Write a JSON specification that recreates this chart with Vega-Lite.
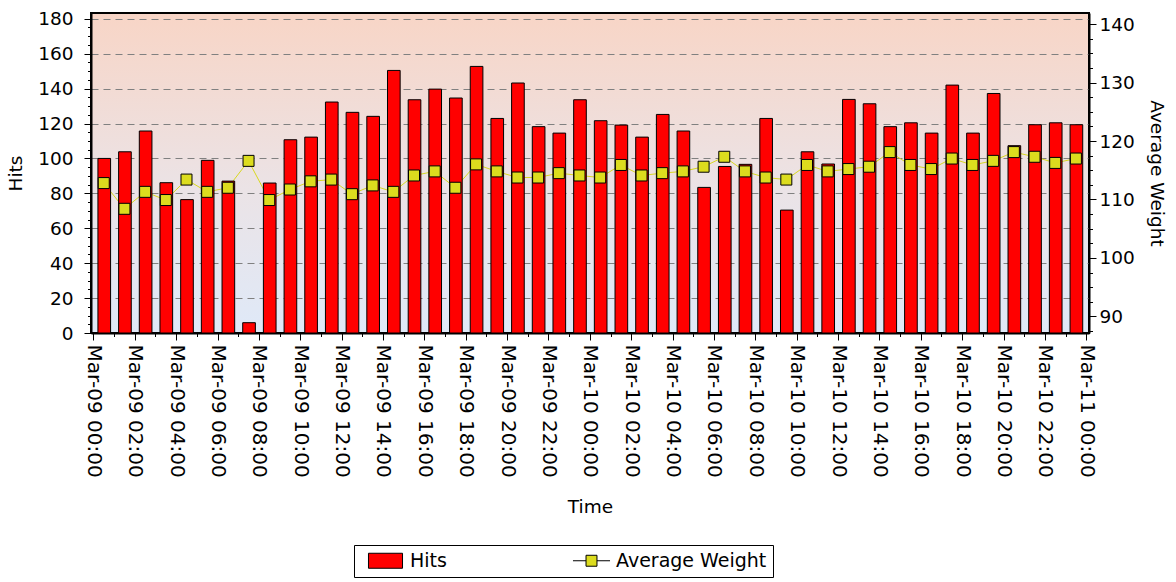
{
  "$schema": "https://vega.github.io/schema/vega-lite/v6.json",
  "width": 998,
  "height": 320,
  "autosize": "none",
  "padding": {"left": 91, "top": 13, "right": 87, "bottom": 249},
  "background": "white",
  "view": {
    "stroke": "#000",
    "strokeWidth": 2,
    "fill": {"gradient": "linear", "x1": 0, "y1": 0, "x2": 0, "y2": 1,
      "stops": [{"offset": 0, "color": "#f8d5c6"}, {"offset": 0.55, "color": "#ebe3e6"}, {"offset": 1, "color": "#dfe9f8"}]}
  },
  "config": {
    "font": "DejaVu Sans",
    "axis": {
      "labelFont": "DejaVu Sans", "titleFont": "DejaVu Sans",
      "labelFontSize": 18.5, "titleFontSize": 18.5, "titleFontWeight": "normal",
      "labelColor": "#000", "titleColor": "#000",
      "domainColor": "#000", "domainWidth": 2,
      "tickColor": "#000", "tickSize": 7
    }
  },
  "data": {"values": [
    {"t": "2010-03-09T00:00", "hits": 100.0, "weight": 112.8},
    {"t": "2010-03-09T01:00", "hits": 103.8, "weight": 108.4},
    {"t": "2010-03-09T02:00", "hits": 115.7, "weight": 111.3},
    {"t": "2010-03-09T03:00", "hits": 86.1, "weight": 109.9},
    {"t": "2010-03-09T04:00", "hits": 76.4, "weight": 113.4},
    {"t": "2010-03-09T05:00", "hits": 98.9, "weight": 111.3},
    {"t": "2010-03-09T06:00", "hits": 87.0, "weight": 112.0},
    {"t": "2010-03-09T07:00", "hits": 5.9, "weight": 116.6},
    {"t": "2010-03-09T08:00", "hits": 85.9, "weight": 109.9},
    {"t": "2010-03-09T09:00", "hits": 110.7, "weight": 111.7},
    {"t": "2010-03-09T10:00", "hits": 112.2, "weight": 113.1},
    {"t": "2010-03-09T11:00", "hits": 132.3, "weight": 113.4},
    {"t": "2010-03-09T12:00", "hits": 126.4, "weight": 110.9},
    {"t": "2010-03-09T13:00", "hits": 124.1, "weight": 112.4},
    {"t": "2010-03-09T14:00", "hits": 150.4, "weight": 111.3},
    {"t": "2010-03-09T15:00", "hits": 133.6, "weight": 114.1},
    {"t": "2010-03-09T16:00", "hits": 139.7, "weight": 114.8},
    {"t": "2010-03-09T17:00", "hits": 134.6, "weight": 112.0},
    {"t": "2010-03-09T18:00", "hits": 152.7, "weight": 116.0},
    {"t": "2010-03-09T19:00", "hits": 122.9, "weight": 114.8},
    {"t": "2010-03-09T20:00", "hits": 143.2, "weight": 113.75},
    {"t": "2010-03-09T21:00", "hits": 118.2, "weight": 113.75},
    {"t": "2010-03-09T22:00", "hits": 114.5, "weight": 114.5},
    {"t": "2010-03-09T23:00", "hits": 133.6, "weight": 114.1},
    {"t": "2010-03-10T00:00", "hits": 121.6, "weight": 113.75},
    {"t": "2010-03-10T01:00", "hits": 119.1, "weight": 115.9},
    {"t": "2010-03-10T02:00", "hits": 112.2, "weight": 114.1},
    {"t": "2010-03-10T03:00", "hits": 125.2, "weight": 114.5},
    {"t": "2010-03-10T04:00", "hits": 115.7, "weight": 114.8},
    {"t": "2010-03-10T05:00", "hits": 83.4, "weight": 115.6},
    {"t": "2010-03-10T06:00", "hits": 95.4, "weight": 117.3},
    {"t": "2010-03-10T07:00", "hits": 96.6, "weight": 114.8},
    {"t": "2010-03-10T08:00", "hits": 122.9, "weight": 113.75},
    {"t": "2010-03-10T09:00", "hits": 70.4, "weight": 113.4},
    {"t": "2010-03-10T10:00", "hits": 103.8, "weight": 115.9},
    {"t": "2010-03-10T11:00", "hits": 96.8, "weight": 114.8},
    {"t": "2010-03-10T12:00", "hits": 133.8, "weight": 115.2},
    {"t": "2010-03-10T13:00", "hits": 131.3, "weight": 115.6},
    {"t": "2010-03-10T14:00", "hits": 118.2, "weight": 118.1},
    {"t": "2010-03-10T15:00", "hits": 120.4, "weight": 115.9},
    {"t": "2010-03-10T16:00", "hits": 114.5, "weight": 115.2},
    {"t": "2010-03-10T17:00", "hits": 142.0, "weight": 117.0},
    {"t": "2010-03-10T18:00", "hits": 114.5, "weight": 115.9},
    {"t": "2010-03-10T19:00", "hits": 137.2, "weight": 116.6},
    {"t": "2010-03-10T20:00", "hits": 107.3, "weight": 118.1},
    {"t": "2010-03-10T21:00", "hits": 119.3, "weight": 117.3},
    {"t": "2010-03-10T22:00", "hits": 120.4, "weight": 116.25},
    {"t": "2010-03-10T23:00", "hits": 119.3, "weight": 117.0}
  ]},
  "layer": [
    {
      "mark": {"type": "line", "color": "#d8d820", "strokeWidth": 1},
      "encoding": {
        "x": {"field": "t", "timeUnit": "yearmonthdatehours", "type": "temporal", "bandPosition": 0.5,
          "scale": {"domain": [{"year": 2010, "month": 3, "date": 8, "hours": 23, "minutes": 53}, {"year": 2010, "month": 3, "date": 11, "hours": 0, "minutes": 8}]},
          "axis": {"title": "Time", "format": "%b-%d %H:%M", "labelAngle": 90, "grid": false, "labelFontSize": 20, "labelPadding": 4, "titlePadding": 20, "labelOverlap": false,
            "tickCount": 96,
            "labelExpr": "(hours(datum.value) % 2 === 0 && minutes(datum.value) === 0) ? datum.label : ''",
            "tickSize": {"condition": {"test": "minutes(datum.value) === 0 && hours(datum.value) % 2 === 0", "value": 7}, "value": 3.5}}},
        "y": {"field": "weight", "type": "quantitative",
          "scale": {"domain": [87.15, 141.9], "nice": false, "zero": false},
          "axis": {"orient": "right", "title": "Average Weight",
            "values": [87.5, 90, 92.5, 95, 97.5, 100, 102.5, 105, 107.5, 110, 112.5, 115, 117.5, 120, 122.5, 125, 127.5, 130, 132.5, 135, 137.5, 140],
            "labelExpr": "datum.value % 10 === 0 ? datum.label : ''",
            "tickSize": {"condition": {"test": "datum.value % 10 === 0", "value": 7}, "value": 3.5},
            "grid": false, "labelPadding": 3, "titlePadding": 12}}
      }
    },
    {
      "mark": {"type": "bar", "stroke": "#000", "strokeWidth": 1, "width": {"band": 0.66}},
      "encoding": {
        "x": {"field": "t", "timeUnit": "yearmonthdatehours", "type": "temporal"},
        "y": {"field": "hits", "type": "quantitative",
          "scale": {"domain": [0, 183.3], "nice": false},
          "axis": {"orient": "left", "title": "Hits",
            "values": [0, 5, 10, 15, 20, 25, 30, 35, 40, 45, 50, 55, 60, 65, 70, 75, 80, 85, 90, 95, 100, 105, 110, 115, 120, 125, 130, 135, 140, 145, 150, 155, 160, 165, 170, 175, 180],
            "labelExpr": "datum.value % 20 === 0 ? datum.label : ''",
            "tickSize": {"condition": {"test": "datum.value % 20 === 0", "value": 7}, "value": 3.5},
            "grid": true, "gridColor": "#808080", "gridDash": [7, 5], "gridWidth": 1.2,
            "gridOpacity": {"condition": {"test": "datum.value % 20 === 0 && datum.value > 0", "value": 1}, "value": 0},
            "labelPadding": 11, "titlePadding": 12}},
        "fill": {"datum": "Hits", "type": "nominal",
          "scale": {"domain": ["Hits", "Average Weight"], "range": ["#ff0000", "#dcdc1e"]},
          "legend": {
            "orient": "none", "legendX": 263, "legendY": 532, "direction": "horizontal",
            "title": null, "strokeColor": "#000", "fillColor": "#fff", "padding": 6,
            "columnPadding": 119, "labelFont": "DejaVu Sans", "labelFontSize": 19, "labelColor": "#000",
            "labelOffset": 15, "symbolOffset": 16, "symbolSize": 225, "symbolStrokeColor": "#000", "symbolStrokeWidth": 1,
            "encode": {"symbols": {"update": {
              "shape": {"signal": "datum.value === 'Hits' ? 'M-2.27,-1H2.27V1H-2.27Z' : 'M-2.47,0H-0.73M0.73,0H2.47M-0.73,-0.73H0.73V0.73H-0.73Z'"},
              "fill": {"signal": "datum.value === 'Hits' ? '#ff0000' : '#dcdc1e'"},
              "stroke": {"value": "#000"},
              "strokeWidth": {"value": 1}
            }}}}}
      }
    },
    {
      "mark": {"type": "point", "shape": "square", "filled": true, "fill": "#dcdc1e", "stroke": "#000", "strokeWidth": 1, "size": 121, "opacity": 1},
      "encoding": {
        "x": {"field": "t", "timeUnit": "yearmonthdatehours", "type": "temporal", "bandPosition": 0.5},
        "y": {"field": "weight", "type": "quantitative",
          "scale": {"domain": [87.15, 141.9], "nice": false, "zero": false},
          "axis": null}
      }
    }
  ],
  "resolve": {"scale": {"y": "independent"}}
}
